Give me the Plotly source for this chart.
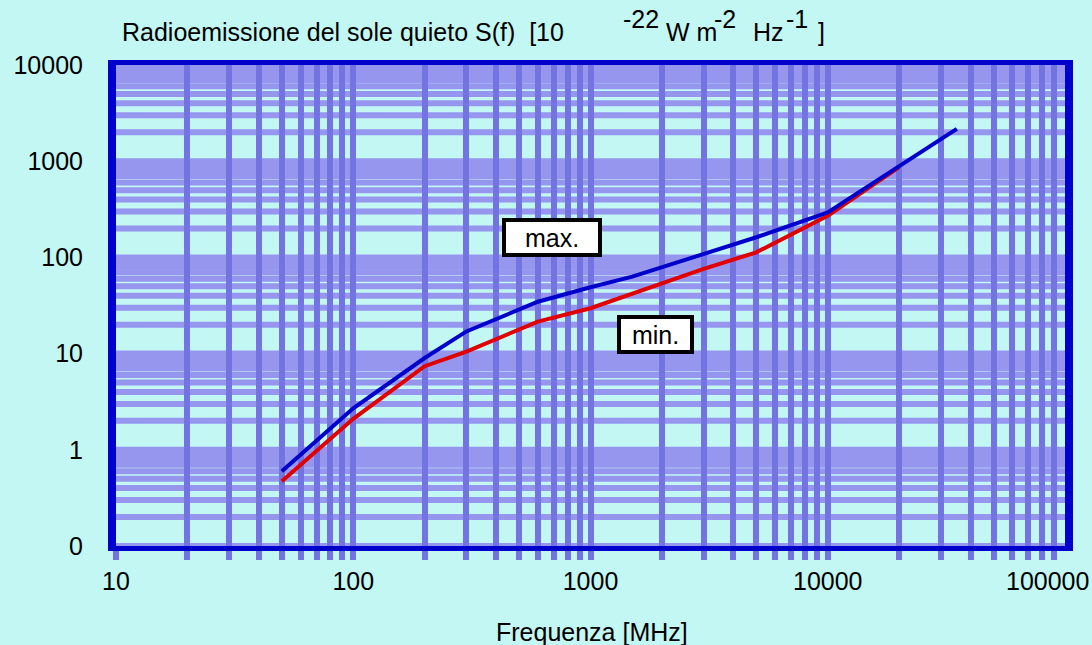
import plotly.graph_objects as go

# Quiet-sun radio flux density, upper and lower envelopes
freq_max = [50, 100, 200, 300, 600, 1000, 1500, 3000, 5000, 10000, 35000]
flux_max = [0.60, 2.7, 9.0, 17, 34.6, 49, 63, 110, 162, 293, 2170]

freq_min = [50, 100, 200, 300, 600, 1000, 3000, 5000, 10000, 20000]
flux_min = [0.47, 2.1, 7.4, 10.5, 21.5, 29.6, 76, 113, 271, 870]

x_tick_vals = [10, 100, 1000, 10000, 100000]
x_tick_text = ["10", "100", "1000", "10000", "100000"]
y_tick_vals = [0.1, 1, 10, 100, 1000, 10000]
y_tick_text = ["0", "1", "10", "100", "1000", "10000"]

W, H = 1092, 645
ML, MR, MT, MB = 116, 27, 65, 99
PW, PH = W - ML - MR, H - MT - MB

FONT = "Liberation Sans, Arial, sans-serif"
FS = 25
BG = "#C2F7F4"
AXIS = "#0000CC"
HGRID = "#9696EE"
VGRID = "#7373E1"


def px(x):
    return (x - ML) / PW


def py(y):
    return (H - MB - y) / PH


def decade_vals(lo_exp, hi_exp, start):
    return [m * 10 ** e for e in range(lo_exp, hi_exp) for m in range(start, 10)]


fig = go.Figure()
fig.add_trace(go.Scatter(x=freq_min, y=flux_min, mode="lines",
                         line=dict(color="#E00000", width=4), name="min."))
fig.add_trace(go.Scatter(x=freq_max, y=flux_max, mode="lines",
                         line=dict(color="#0000CC", width=4), name="max."))

# Vertical grid (drawn by the x axis, with short stubs below the frame)
fig.update_xaxes(
    type="log", range=[1, 5],
    tickvals=x_tick_vals[:-1], ticktext=x_tick_text[:-1],
    showgrid=True, gridcolor=VGRID, gridwidth=6,
    ticks="outside", ticklen=9, tickwidth=6, tickcolor=VGRID,
    minor=dict(tickvals=decade_vals(1, 5, 2), showgrid=True, gridcolor=VGRID,
               gridwidth=6, ticks="outside", ticklen=9, tickwidth=6,
               tickcolor=VGRID),
    showline=True, linecolor=AXIS, linewidth=5, mirror=True,
    zeroline=False,
    tickfont=dict(family=FONT, size=FS, color="black"),
)
fig.update_yaxes(
    type="log", range=[-1, 4],
    tickvals=y_tick_vals, ticktext=y_tick_text,
    showgrid=False,
    ticks="outside", ticklen=20, tickcolor="rgba(0,0,0,0)",
    showline=True, linecolor=AXIS, linewidth=8, mirror=True,
    zeroline=False,
    tickfont=dict(family=FONT, size=FS, color="black"),
)

# Horizontal grid bands sit underneath the vertical ones
for v in decade_vals(-1, 4, 1) + [10000]:
    fig.add_shape(type="line", xref="paper", yref="y", x0=0, x1=1, y0=v, y1=v,
                  line=dict(color=HGRID, width=6), layer="below")

ann = []


def label(text, x, y, xanchor="left", size=FS):
    ann.append(dict(text=text, x=px(x), y=py(y), xref="paper", yref="paper",
                    xanchor=xanchor, yanchor="middle", showarrow=False,
                    font=dict(family=FONT, size=size, color="black")))


# Title with unit exponents
label("Radioemissione del sole quieto S(f)  [10", 120, 32)
label("-22", 621, 19)
label("W m", 664, 32)
label("-2", 712, 19)
label("Hz", 751, 32)
label("-1", 784, 19)
label("]", 816, 32)

# Axis title and last tick label
label("Frequenza [MHz]", 592, 632, xanchor="center")
label(x_tick_text[-1], 1091, 581, xanchor="right")

# Boxed curve labels
for text, cx, cy, bw in [("max.", 552, 237, 100), ("min.", 655, 334, 77)]:
    ann.append(dict(text=text, x=px(cx), y=py(cy), xref="paper", yref="paper",
                    xanchor="center", yanchor="middle", showarrow=False,
                    bgcolor="white", bordercolor="black", borderwidth=4,
                    borderpad=4, width=bw - 16, height=39 - 16,
                    font=dict(family=FONT, size=FS, color="black")))

fig.update_layout(
    width=W, height=H,
    margin=dict(l=ML, r=MR, t=MT, b=MB),
    paper_bgcolor=BG, plot_bgcolor="rgba(0,0,0,0)",
    showlegend=False,
    annotations=ann,
)

fig.write_html("out.html")
